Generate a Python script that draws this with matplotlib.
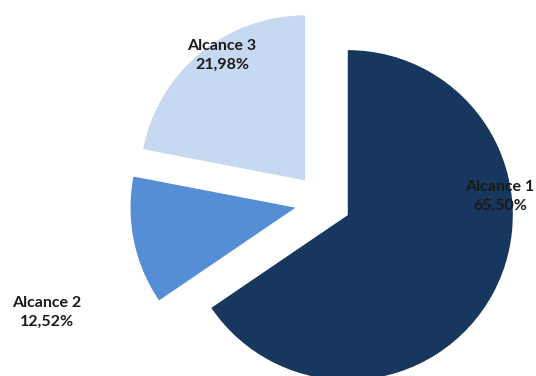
import matplotlib
matplotlib.use("Agg")
import matplotlib.pyplot as plt

# Data
labels = ["Alcance 1", "Alcance 2", "Alcance 3"]
values = [65.50, 12.52, 21.98]
colors = ["#17375e", "#558ed5", "#c6d9f1"]
explode = [0.17, 0.17, 0.17]

fig = plt.figure(figsize=(5.36, 3.76), dpi=100)
ax = fig.add_axes([0, 0, 1, 1])

ax.pie(
    values,
    colors=colors,
    explode=explode,
    startangle=90,
    counterclock=False,
    radius=1.0,
    wedgeprops={"linewidth": 0},
)

# pixel scale: radius ~165 px, center at (323, 174) from bottom-left
scale = 165.0
cx, cy = 323.0, 174.0
ax.set_xlim(-cx / scale, (536 - cx) / scale)
ax.set_ylim(-cy / scale, (376 - cy) / scale)
ax.set_aspect("equal")
ax.axis("off")

# label positions in pixels (x, y from top)
label_pos = [(500, 196), (47, 312), (222, 55)]
for name, val, (px, py) in zip(labels, values, label_pos):
    x = (px - cx) / scale
    y = ((376 - py) - cy) / scale
    txt = f"{name}\n{val:.2f}%".replace(".", ",")
    ax.text(x, y, txt, ha="center", va="center", fontsize=11.5,
            fontweight="bold", family="Lato", color="#1a1a1a",
            linespacing=1.45)

plt.savefig("out.png", dpi=100)
plt.close()
